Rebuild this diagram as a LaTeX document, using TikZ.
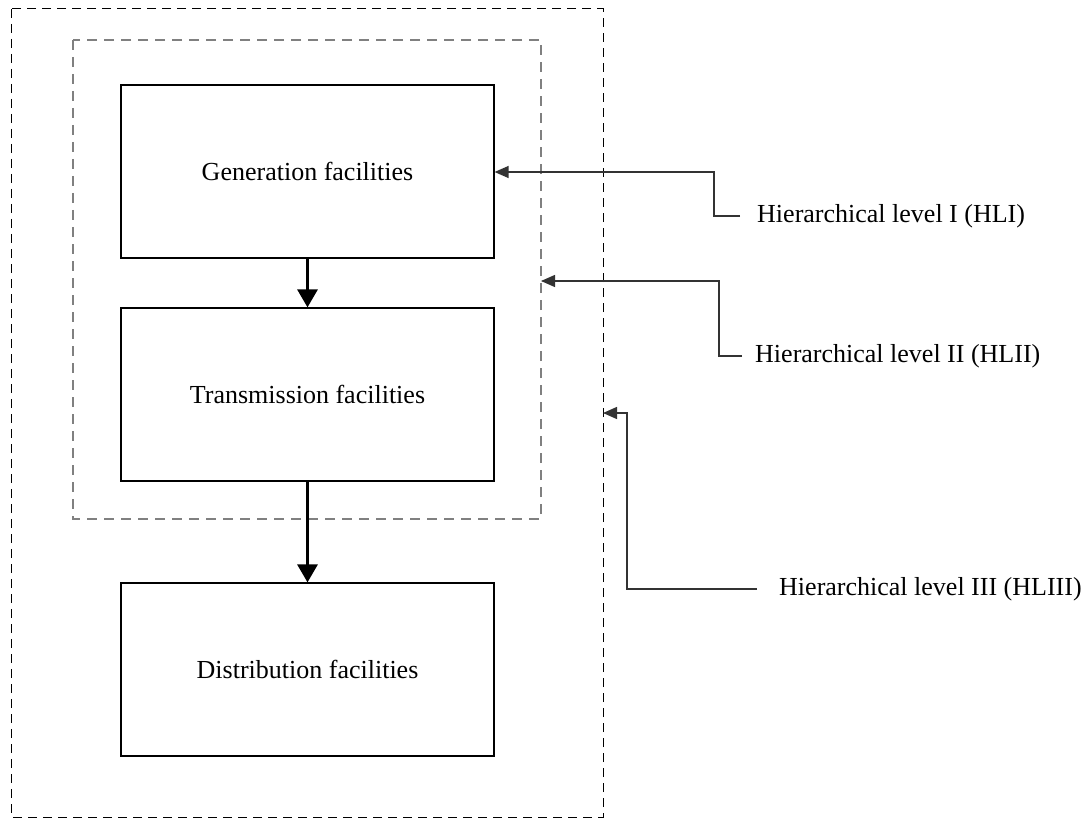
\documentclass[tikz,border=0pt]{standalone}
\usepackage{fontspec}
\setmainfont{Liberation Serif}
\usetikzlibrary{arrows.meta}
\begin{document}
\begin{tikzpicture}[x=1pt,y=-1pt,
  facility/.style={draw, line width=1.2pt, minimum width=373pt, minimum height=173pt, inner sep=0pt, font=\fontsize{26}{30}\selectfont},
  flow/.style={line width=3pt, -{Triangle[length=18pt,width=20pt]}},
  pointer/.style={line width=1.3pt, draw=black!80, -{Triangle[length=14pt,width=12pt]}},
  lbl/.style={anchor=west, inner sep=0pt, font=\fontsize{26}{30}\selectfont},
  outerbox/.style={draw, line width=1pt, dash pattern=on 9pt off 6pt},
  innerbox/.style={draw=black!50, line width=1.6pt, dash pattern=on 10pt off 7pt}]
\useasboundingbox (0,0) rectangle (1091,818);
\draw[outerbox] (11,9) rectangle (603,817);
\draw[innerbox] (73,40) rectangle (541,519);
\node[facility] (gen) at (307.5,171.5) {Generation facilities};
\node[facility] (trans) at (307.5,394.5) {Transmission facilities};
\node[facility] (dist) at (307.5,669.5) {Distribution facilities};
\draw[flow] (gen.south) -- (trans.north);
\draw[flow] (trans.south) -- (dist.north);
\coordinate (innerE) at (541,281);
\coordinate (outerE) at (603,413);
\node[lbl] (l1) at (757,216) {Hierarchical level I (HLI)};
\node[lbl] (l2) at (755,356) {Hierarchical level II (HLII)};
\node[lbl] (l3) at (779,589) {Hierarchical level III (HLIII)};
\draw[pointer] ([xshift=-17pt]l1.west) -- (714,216) -- (714,172) -- (gen.east |- 0,172);
\draw[pointer] ([xshift=-13pt]l2.west) -- (719,356) -- (719,281) -- (innerE);
\draw[pointer] ([xshift=-22pt]l3.west) -- (627,589) -- (627,413) -- (outerE);
\end{tikzpicture}
\end{document}
